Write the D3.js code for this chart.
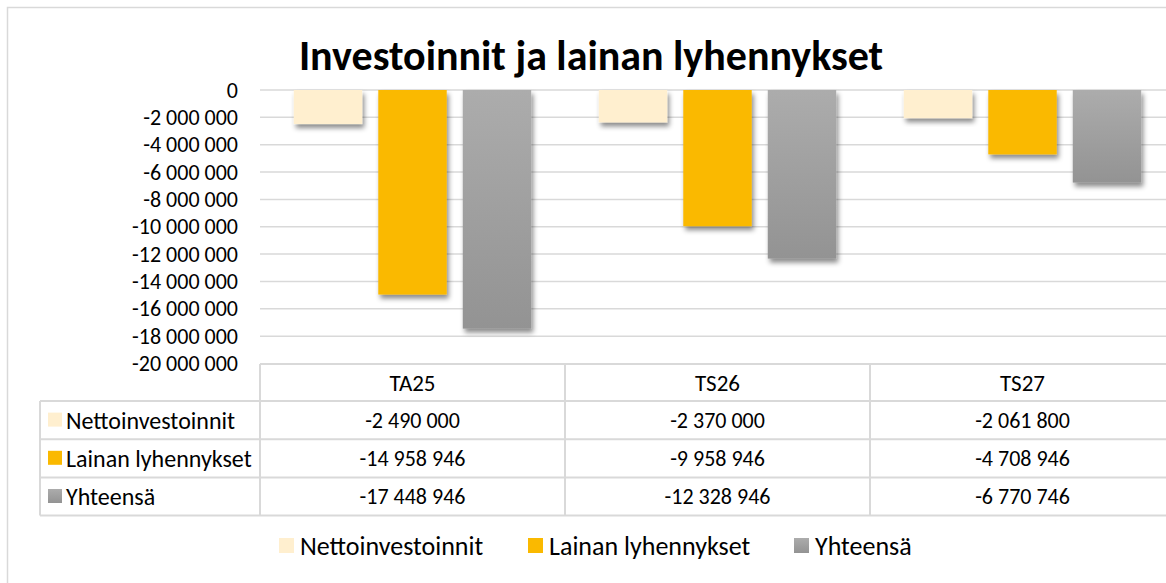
<!DOCTYPE html>
<html>
<head>
<meta charset="utf-8">
<script src="https://cdn.jsdelivr.net/npm/d3@7"></script>
<style>
  html, body { margin: 0; padding: 0; background: #fff; }
  svg { display: block; font-family: Carlito, Calibri, Lato, sans-serif; }
</style>
</head>
<body>
<div id="chart"></div>
<script>
// data
const categories = ['TA25', 'TS26', 'TS27'];
const seriesNames = ['Nettoinvestoinnit', 'Lainan lyhennykset', 'Yhteensä'];
const nettoinvestoinnit = [-2490000, -2370000, -2061800];
const lainanLyhennykset = [-14958946, -9958946, -4708946];
const yhteensa = [-17448946, -12328946, -6770746];
const yTicks = [0, -2000000, -4000000, -6000000, -8000000, -10000000,
                -12000000, -14000000, -16000000, -18000000, -20000000];

const seriesValues = [nettoinvestoinnit, lainanLyhennykset, yhteensa];
const fills = ['#FFEFCF', '#FAB900', 'url(#greyGrad)'];

// sizes
const width = 1166, height = 583;
const plotLeft = 260, plotRight = 1175;
const plotTop = 90, plotBottom = 363.5;
const tableLeft = 40;
const rowH = 38.2;
const lineCol = '#d9d9d9';

const fi = d3.formatLocale({decimal: ',', thousands: '\u00a0', grouping: [3], currency: ['', ''], minus: '-'});
const fmt = fi.format(',d');

const svg = d3.select('#chart').append('svg')
  .attr('width', width)
  .attr('height', height);

const defs = svg.append('defs');
const grad = defs.append('linearGradient')
  .attr('id', 'greyGrad').attr('x1', 0).attr('y1', 0).attr('x2', 0).attr('y2', 1);
grad.append('stop').attr('offset', '0%').attr('stop-color', '#ACACAC');
grad.append('stop').attr('offset', '100%').attr('stop-color', '#939393');

defs.append('filter').attr('id', 'shadow')
  .attr('x', '-20%').attr('y', '-20%').attr('width', '150%').attr('height', '150%')
  .append('feDropShadow')
  .attr('dx', 2).attr('dy', 4).attr('stdDeviation', 2.5)
  .attr('flood-color', '#000').attr('flood-opacity', 0.45);

// outer border
svg.append('rect')
  .attr('x', 7.5).attr('y', 7.5)
  .attr('width', width + 20).attr('height', height + 20)
  .attr('fill', 'none').attr('stroke', lineCol).attr('stroke-width', 1.5);

// title
svg.append('text')
  .attr('x', 591).attr('y', 70)
  .attr('text-anchor', 'middle')
  .style('font-size', '42px').style('font-weight', 'bold')
  .attr('fill', '#000')
  .text('Investoinnit ja lainan lyhennykset');

// scales
const x0 = d3.scaleBand().domain(categories).range([plotLeft, plotRight]);
const x1 = d3.scaleBand().domain(seriesNames).range([0, x0.bandwidth()])
  .paddingInner(0.19).paddingOuter(0.4);
const y = d3.scaleLinear().domain([0, -20000000]).range([plotTop, plotBottom]);

// gridlines
svg.append('g').selectAll('line')
  .data(yTicks.slice(0, -1))
  .enter().append('line')
  .attr('x1', plotLeft).attr('x2', plotRight)
  .attr('y1', d => y(d)).attr('y2', d => y(d))
  .attr('stroke', lineCol).attr('stroke-width', 1.5);

// y axis
const yAxis = svg.append('g')
  .attr('transform', 'translate(' + (plotLeft - 22) + ',0)')
  .call(d3.axisLeft(y).tickValues(yTicks).tickSize(0).tickPadding(0).tickFormat(fmt));
yAxis.select('.domain').remove();
yAxis.selectAll('text')
  .style('font-family', 'Carlito, Calibri, Lato, sans-serif')
  .style('font-size', '22px').attr('fill', '#000');

// bars
categories.forEach((cat, ci) => {
  svg.append('g')
    .attr('transform', 'translate(' + x0(cat) + ',0)')
    .selectAll('rect')
    .data(seriesNames.map((s, si) => ({s: s, v: seriesValues[si][ci], f: fills[si]})))
    .enter().append('rect')
    .attr('x', d => x1(d.s))
    .attr('y', y(0))
    .attr('width', x1.bandwidth())
    .attr('height', d => y(d.v) - y(0))
    .attr('fill', d => d.f)
    .attr('filter', 'url(#shadow)');
});

// data table
const table = svg.append('g');
const headTop = plotBottom + 0.5;
const rowsTop = headTop + 37;
const tableBottom = rowsTop + rowH * 3;

// horizontal lines
table.append('line').attr('x1', plotLeft).attr('x2', plotRight)
  .attr('y1', headTop).attr('y2', headTop);
d3.range(4).forEach(i => {
  table.append('line').attr('x1', tableLeft).attr('x2', plotRight)
    .attr('y1', rowsTop + i * rowH).attr('y2', rowsTop + i * rowH);
});
// vertical lines
table.append('line').attr('x1', tableLeft).attr('x2', tableLeft)
  .attr('y1', rowsTop).attr('y2', tableBottom);
categories.forEach(cat => {
  table.append('line').attr('x1', x0(cat)).attr('x2', x0(cat))
    .attr('y1', headTop).attr('y2', tableBottom);
});
table.selectAll('line').attr('stroke', lineCol).attr('stroke-width', 2);

// header labels
table.selectAll('text.head')
  .data(categories)
  .enter().append('text')
  .attr('class', 'head')
  .attr('x', d => x0(d) + x0.bandwidth() / 2)
  .attr('y', headTop + 18.5)
  .attr('dy', '0.35em')
  .attr('text-anchor', 'middle')
  .style('font-size', '23px')
  .text(d => d);

seriesNames.forEach((s, si) => {
  const cy = rowsTop + si * rowH + rowH / 2;
  table.append('rect')
    .attr('x', 48).attr('y', cy - 7.5)
    .attr('width', 14).attr('height', 14)
    .attr('fill', fills[si]);
  table.append('text')
    .attr('x', 66).attr('y', cy)
    .attr('dy', '0.35em')
    .style('font-size', '24px')
    .text(s);
  categories.forEach((cat, ci) => {
    table.append('text')
      .attr('x', x0(cat) + x0.bandwidth() / 2)
      .attr('y', cy)
      .attr('dy', '0.35em')
      .attr('text-anchor', 'middle')
      .style('font-size', '22px')
      .text(fmt(seriesValues[si][ci]));
  });
});

// legend
const legendX = [279, 528, 794];
const legend = svg.append('g');
seriesNames.forEach((s, si) => {
  legend.append('rect')
    .attr('x', legendX[si]).attr('y', 538)
    .attr('width', 15).attr('height', 15)
    .attr('fill', fills[si]);
  legend.append('text')
    .attr('x', legendX[si] + 21).attr('y', 545.5)
    .attr('dy', '0.35em')
    .style('font-size', '26px')
    .text(s);
});
</script>
</body>
</html>
